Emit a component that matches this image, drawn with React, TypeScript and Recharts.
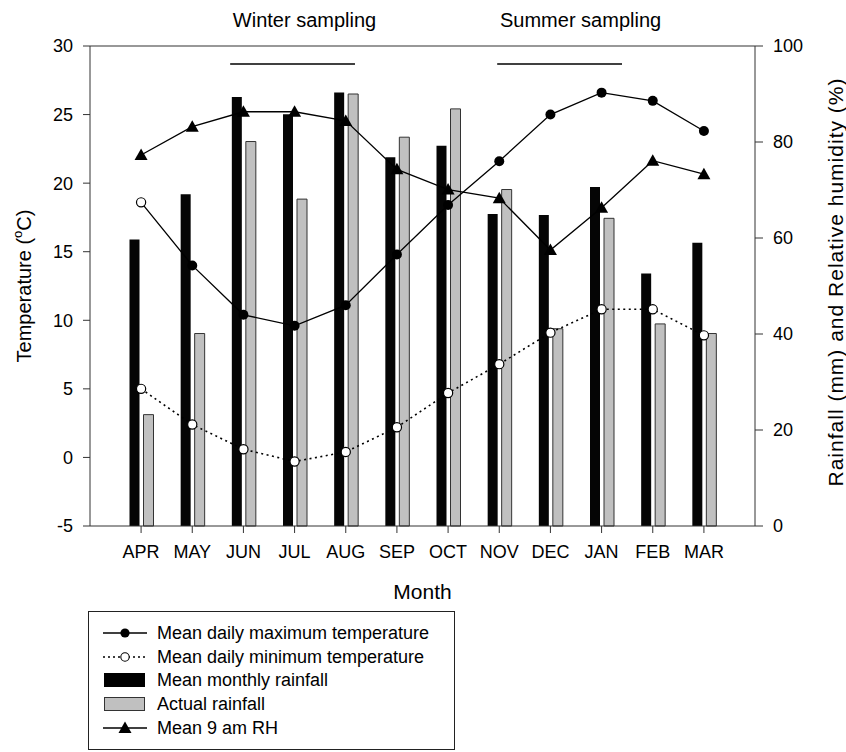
import React from 'react';
import {
  ComposedChart,
  Bar,
  Line,
  XAxis,
  YAxis,
  ReferenceLine,
  Legend,
} from 'recharts';

const months = ['APR', 'MAY', 'JUN', 'JUL', 'AUG', 'SEP', 'OCT', 'NOV', 'DEC', 'JAN', 'FEB', 'MAR'];
const maxTemp = [18.6, 14.0, 10.4, 9.6, 11.1, 14.8, 18.4, 21.6, 25.0, 26.6, 26.0, 23.8];
const minTemp = [5.0, 2.4, 0.6, -0.3, 0.4, 2.2, 4.7, 6.8, 9.1, 10.8, 10.8, 8.9];
const meanRain = [59.7, 69.1, 89.4, 85.8, 90.3, 76.8, 79.2, 65.0, 64.8, 70.6, 52.6, 59.0];
const actualRain = [23.2, 40.1, 80.1, 68.1, 90.0, 81.0, 86.9, 70.1, 41.1, 64.1, 42.1, 40.1];
const rh9am = [77.3, 83.2, 86.3, 86.3, 84.4, 74.3, 70.1, 68.3, 57.5, 66.3, 76.1, 73.3];

const tempTicks = [-5, 0, 5, 10, 15, 20, 25, 30];
const pctTicks = [0, 20, 40, 60, 80, 100];

// sampling periods, in month positions (APR = 1)
const winterSampling = [2.74, 5.18];
const summerSampling = [7.96, 10.4];
const samplingLevel = 96.25;

const legendItems = [
  { key: 'maxTemp', label: 'Mean daily maximum temperature' },
  { key: 'minTemp', label: 'Mean daily minimum temperature' },
  { key: 'meanRain', label: 'Mean monthly rainfall' },
  { key: 'actualRain', label: 'Actual rainfall' },
  { key: 'rh9am', label: 'Mean 9 am RH' },
];

const data = months.map((m, i) => ({
  month: m,
  pos: i + 1,
  maxTemp: maxTemp[i],
  minTemp: minTemp[i],
  meanRain: meanRain[i],
  actualRain: actualRain[i],
  rh9am: rh9am[i],
}));

const FONT = '"Liberation Sans", Arial, sans-serif';
const AXIS = '#333';

const MaxDot = (props: any) => {
  const { cx, cy, index } = props;
  if (cx == null || cy == null) return <g key={`mx${index}`} />;
  if (index === 0) {
    return <circle key={`mx${index}`} cx={cx} cy={cy} r={4.6} fill="#fff" stroke="#000" strokeWidth={1.2} />;
  }
  return <circle key={`mx${index}`} cx={cx} cy={cy} r={5} fill="#000" />;
};

const MinDot = (props: any) => {
  const { cx, cy, index } = props;
  if (cx == null || cy == null) return <g key={`mn${index}`} />;
  return <circle key={`mn${index}`} cx={cx} cy={cy} r={4.6} fill="#fff" stroke="#000" strokeWidth={1.2} />;
};

const TriDot = (props: any) => {
  const { cx, cy, index } = props;
  if (cx == null || cy == null) return <g key={`rh${index}`} />;
  return (
    <polygon
      key={`rh${index}`}
      points={`${cx},${cy - 6.5} ${cx - 6.5},${cy + 5} ${cx + 6.5},${cy + 5}`}
      fill="#000"
    />
  );
};

const TempAxisLabel = ({ viewBox }: any) => {
  const cx = viewBox.x + 24;
  const cy = viewBox.y + viewBox.height / 2;
  return (
    <text
      x={cx}
      y={cy}
      transform={`rotate(-90 ${cx} ${cy})`}
      textAnchor="middle"
      dominantBaseline="central"
      fontSize={20}
      fill="#000"
    >
      Temperature (<tspan dy={-7} fontSize={13}>o</tspan>
      <tspan dy={7}>C)</tspan>
    </text>
  );
};

const RainAxisLabel = ({ viewBox }: any) => {
  const cx = viewBox.x + 80;
  const cy = viewBox.y + viewBox.height / 2 - 4;
  return (
    <text
      x={cx}
      y={cy}
      transform={`rotate(-90 ${cx} ${cy})`}
      textAnchor="middle"
      dominantBaseline="central"
      fontSize={21}
      letterSpacing={1}
      fill="#000"
    >
      Rainfall (mm) and Relative humidity (%)
    </text>
  );
};

const LegendIcon = ({ kind }: { kind: string }) => {
  if (kind === 'meanRain') {
    return (
      <svg width={44} height={16}>
        <rect x={1} y={1} width={41} height={14} fill="#000" />
      </svg>
    );
  }
  if (kind === 'actualRain') {
    return (
      <svg width={44} height={16}>
        <rect x={1.5} y={1.5} width={40} height={13} fill="#c0c0c0" stroke="#333" strokeWidth={1} />
      </svg>
    );
  }
  const dotted = kind === 'minTemp';
  return (
    <svg width={44} height={16}>
      <line
        x1={0}
        y1={8}
        x2={44}
        y2={8}
        stroke="#000"
        strokeWidth={dotted ? 1.5 : 1.3}
        strokeDasharray={dotted ? '2 3' : undefined}
      />
      {kind === 'maxTemp' && <circle cx={22} cy={8} r={4.6} fill="#000" />}
      {kind === 'minTemp' && <circle cx={22} cy={8} r={4.2} fill="#fff" stroke="#000" strokeWidth={1.1} />}
      {kind === 'rh9am' && <polygon points="22,1.5 15.5,13 28.5,13" fill="#000" />}
    </svg>
  );
};

const LegendBox = () => (
  <div style={{ paddingTop: 9, fontFamily: FONT, fontSize: 18, color: '#000' }}>
    {legendItems.map((it) => (
      <div key={it.key} style={{ display: 'flex', alignItems: 'center', height: 23.75 }}>
        <div style={{ marginLeft: 14, width: 44, height: 16 }}>
          <LegendIcon kind={it.key} />
        </div>
        <span style={{ marginLeft: 10, lineHeight: '20px' }}>{it.label}</span>
      </div>
    ))}
  </div>
);

export default function App() {
  return (
    <div style={{ position: 'absolute', left: 0, top: 0, width: 846, height: 752, background: '#fff', fontFamily: FONT }}>
      <ComposedChart
        width={846}
        height={752}
        data={data}
        margin={{ top: 46, right: 0, bottom: 146, left: 0 }}
        style={{ fontFamily: FONT }}
      >
        <XAxis
          dataKey="month"
          interval={0}
          padding={{ left: 25.5, right: 25.5 }}
          height={80}
          tickSize={7}
          tickMargin={12}
          stroke={AXIS}
          tick={{ fontSize: 18, fill: '#000' }}
          label={{ value: 'Month', position: 'insideBottom', offset: 7, fontSize: 21, fill: '#000' }}
        />
        <XAxis xAxisId="pos" type="number" dataKey="pos" domain={[0, 13]} allowDataOverflow hide />
        <YAxis
          yAxisId="left"
          width={90}
          domain={[-5, 30]}
          ticks={tempTicks}
          interval={0}
          tickSize={7}
          tickMargin={10}
          stroke={AXIS}
          tick={{ fontSize: 18, fill: '#000' }}
          label={<TempAxisLabel />}
        />
        <YAxis
          yAxisId="right"
          orientation="right"
          width={91}
          domain={[0, 100]}
          ticks={pctTicks}
          interval={0}
          tickSize={8}
          tickMargin={10}
          stroke={AXIS}
          tick={{ fontSize: 18, fill: '#000' }}
          label={<RainAxisLabel />}
        />
        <ReferenceLine yAxisId="right" y={100} stroke={AXIS} strokeWidth={1.2} />
        <ReferenceLine
          yAxisId="right"
          xAxisId="pos"
          segment={[
            { x: winterSampling[0], y: samplingLevel },
            { x: winterSampling[1], y: samplingLevel },
          ]}
          stroke="#000"
          strokeWidth={1.4}
          label={{ value: 'Winter sampling', position: 'top', offset: 37, dx: 12, fontSize: 20, fill: '#000' }}
        />
        <ReferenceLine
          yAxisId="right"
          xAxisId="pos"
          segment={[
            { x: summerSampling[0], y: samplingLevel },
            { x: summerSampling[1], y: samplingLevel },
          ]}
          stroke="#000"
          strokeWidth={1.4}
          label={{ value: 'Summer sampling', position: 'top', offset: 37, dx: 21, fontSize: 20, fill: '#000' }}
        />
        <Line
          yAxisId="left"
          dataKey="maxTemp"
          stroke="#000"
          strokeWidth={1.3}
          dot={MaxDot}
          activeDot={false}
          isAnimationActive={false}
        />
        <Line
          yAxisId="left"
          dataKey="minTemp"
          stroke="#000"
          strokeWidth={1.6}
          strokeDasharray="2 3.5"
          dot={MinDot}
          activeDot={false}
          isAnimationActive={false}
        />
        <Line
          yAxisId="right"
          dataKey="rh9am"
          stroke="#000"
          strokeWidth={1.3}
          dot={TriDot}
          activeDot={false}
          isAnimationActive={false}
        />
        <Bar yAxisId="right" dataKey="meanRain" fill="#050505" barSize={10} isAnimationActive={false} />
        <Bar
          yAxisId="right"
          dataKey="actualRain"
          fill="#c0c0c0"
          stroke="#333"
          strokeWidth={1}
          barSize={10}
          isAnimationActive={false}
        />
        <Legend
          layout="horizontal"
          verticalAlign="middle"
          align="center"
          content={() => <LegendBox />}
          wrapperStyle={{
            left: 88,
            top: 611,
            width: 367,
            height: 139,
            border: '1px solid #222',
            boxSizing: 'border-box',
            background: '#fff',
          }}
        />
      </ComposedChart>
    </div>
  );
}
